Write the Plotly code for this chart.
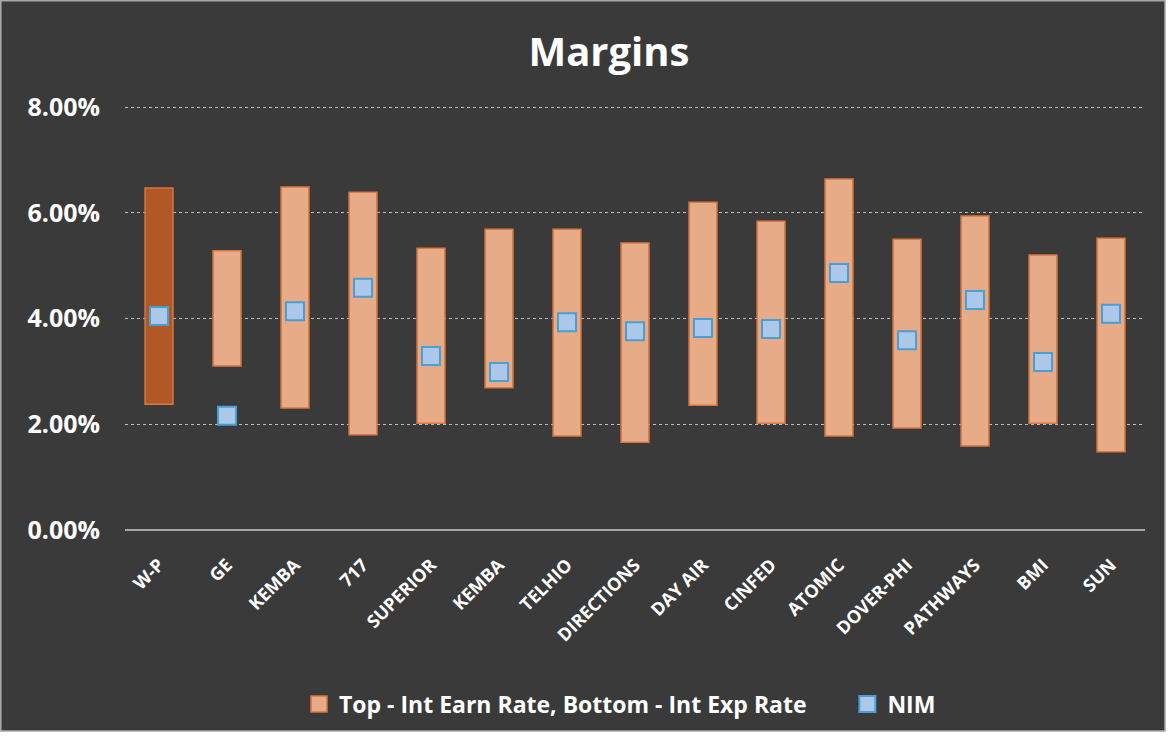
import plotly.graph_objects as go

categories = ["W-P", "GE", "KEMBA", "717", "SUPERIOR", "KEMBA ", "TELHIO", "DIRECTIONS",
              "DAY AIR", "CINFED", "ATOMIC", "DOVER-PHI", "PATHWAYS", "BMI", "SUN"]
int_earn_rate = [6.47, 5.28, 6.49, 6.39, 5.33, 5.69, 5.69, 5.43, 6.20, 5.84, 6.64, 5.50, 5.94, 5.20, 5.52]
int_exp_rate = [2.38, 3.10, 2.31, 1.80, 2.02, 2.69, 1.78, 1.66, 2.36, 2.02, 1.78, 1.93, 1.59, 2.02, 1.48]
nim = [4.05, 2.16, 4.14, 4.58, 3.29, 2.99, 3.93, 3.76, 3.82, 3.80, 4.86, 3.59, 4.35, 3.18, 4.09]
tick_labels = ["W-P", "GE", "KEMBA", "717", "SUPERIOR", "KEMBA", "TELHIO", "DIRECTIONS",
               "DAY AIR", "CINFED", "ATOMIC", "DOVER-PHI", "PATHWAYS", "BMI", "SUN"]

x_idx = list(range(len(categories)))
spans = [(e - b) / 100 for e, b in zip(int_earn_rate, int_exp_rate)]
bases = [b / 100 for b in int_exp_rate]
LIGHT = "#e8ab87"
bar_colors = ["#b25726"] + [LIGHT] * (len(categories) - 1)

FONT = "Open Sans, Roboto, sans-serif"

fig = go.Figure()
fig.add_trace(go.Bar(
    x=x_idx, y=spans, base=bases, showlegend=False,
    marker=dict(color=bar_colors, line=dict(color="#d9773f", width=1.5)),
    width=0.41,
))
# legend entry for the bars (light colour)
fig.add_trace(go.Scatter(
    x=[None], y=[None], mode="markers",
    name="Top - Int Earn Rate, Bottom - Int Exp Rate      ",
    marker=dict(symbol="square", size=16, color=LIGHT, line=dict(color="#d9773f", width=1.5)),
))
fig.add_trace(go.Scatter(
    x=x_idx, y=[v / 100 for v in nim], mode="markers", name="NIM",
    marker=dict(symbol="square", size=18, color="#abc8ea",
                line=dict(color="#4a9fd2", width=2)),
))

# chart-area box with light border (paper coords relative to plot area)
L, R, T, B, W, H = 125, 23, 106, 206, 1168, 736
pw, ph = W - L - R, H - T - B
def px_x(px):
    return (px - L) / pw
def px_y(py):
    return (H - B - py) / ph

fig.add_shape(type="rect", xref="paper", yref="paper", layer="below",
              x0=px_x(0.8), x1=px_x(1165), y0=px_y(731), y1=px_y(0.8),
              fillcolor="#3a3a3a", line=dict(color="#a8a8a8", width=1.5))

fig.update_layout(
    width=W, height=H,
    paper_bgcolor="white", plot_bgcolor="rgba(0,0,0,0)",
    margin=dict(l=L, r=R, t=T, b=B, autoexpand=False),
    title=dict(text="<b>Margins</b>", x=609 / W, xanchor="center", y=1 - 52 / H, yanchor="middle",
               font=dict(family=FONT, size=40, color="white")),
    font=dict(family=FONT, color="white"),
    showlegend=True,
    legend=dict(orientation="h", xref="container", yref="container",
                x=620 / W, xanchor="center", y=1 - 704 / H, yanchor="middle",
                font=dict(family=FONT, size=23, color="white", weight="bold"),
                itemwidth=30, bgcolor="rgba(0,0,0,0)"),
    barmode="overlay",
)
fig.update_xaxes(
    tickmode="array", tickvals=x_idx, ticktext=tick_labels,
    tickangle=-45, tickfont=dict(family=FONT, size=18, color="white", weight="bold"),
    range=[-0.5, len(categories) - 0.5], automargin=False,
    showgrid=False, zeroline=False, showline=False, ticks="", ticklabelstandoff=20,
)
fig.update_yaxes(
    range=[0, 0.0802], tickvals=[0, 0.02, 0.04, 0.06, 0.08], tickformat=".2%",
    tickfont=dict(family=FONT, size=25, color="white", weight="bold"),
    showgrid=True, gridcolor="#bdbdbd", griddash="dot", gridwidth=1,
    zeroline=True, zerolinecolor="#a6a6a6", zerolinewidth=1.5, automargin=False,
    ticks="", ticklabelstandoff=24,
)

fig.write_html("out.html", config={"displayModeBar": False},
               post_script="document.body.style.margin='0';")
